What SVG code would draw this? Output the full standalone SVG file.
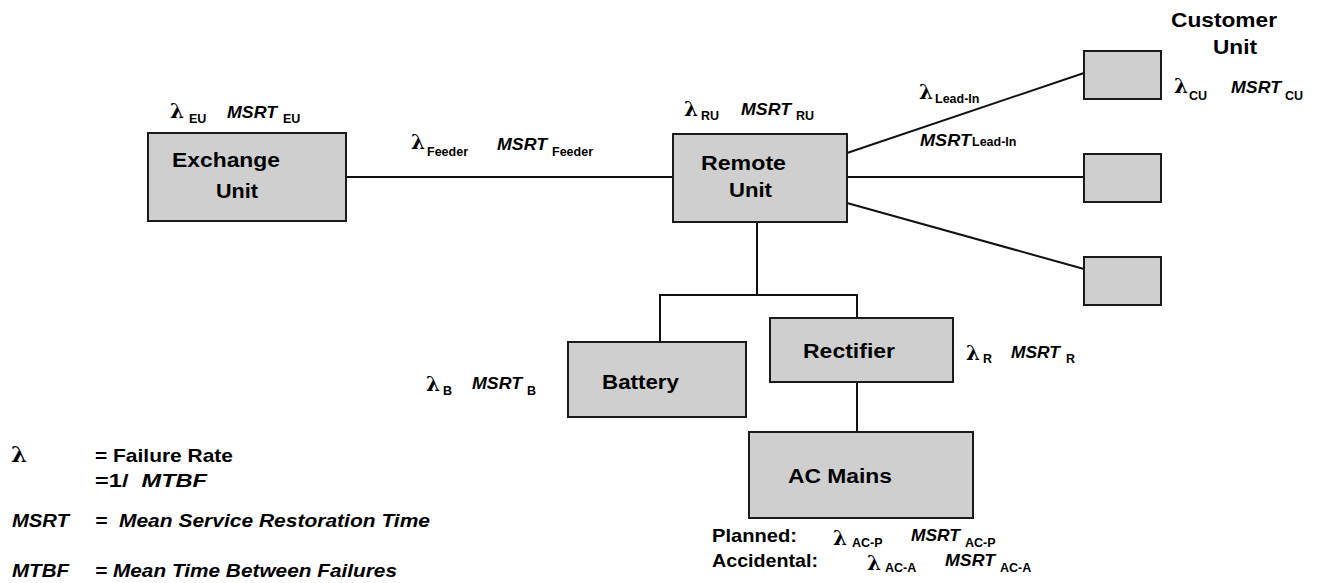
<svg xmlns="http://www.w3.org/2000/svg" width="1318" height="583" viewBox="0 0 1318 583">
<style>
.box{fill:#cfcfcf;stroke:#1a1a1a;stroke-width:2}
.ln{stroke:#111;stroke-width:2;fill:none}
text{font-family:"Liberation Sans",Arial,sans-serif;font-weight:bold;fill:#000}
.lbl{font-size:20px}
.ms{font-size:17px;font-style:italic}
.sb{font-size:12.5px}
.lam{font-family:"DejaVu Serif","Liberation Serif",serif;font-size:20px}
.lg{font-size:19px}
.it{font-style:italic}
</style>
<rect width="1318" height="583" fill="#fff"/>
<g id="connectors">
<line class="ln" x1="346" y1="177" x2="673" y2="177"/>
<line class="ln" x1="847" y1="153" x2="1084" y2="73"/>
<line class="ln" x1="847" y1="177" x2="1084" y2="177"/>
<line class="ln" x1="847" y1="203" x2="1084" y2="269"/>
<polyline class="ln" points="757,222 757,295"/>
<polyline class="ln" points="660,342 660,295 857,295 857,318"/>
<line class="ln" x1="857" y1="382" x2="857" y2="432"/>
</g>
<g id="exchange-unit">
<rect class="box" x="148" y="133" width="198" height="88"/>
<text class="lbl" x="172" y="167" textLength="108" lengthAdjust="spacingAndGlyphs">Exchange</text>
<text class="lbl" x="216" y="198" textLength="42" lengthAdjust="spacingAndGlyphs">Unit</text>
<text class="lam" x="170" y="118">λ</text><text class="sb" x="189" y="123">EU</text>
<text class="ms" x="227" y="118" textLength="50" lengthAdjust="spacingAndGlyphs">MSRT</text><text class="sb" x="283" y="123">EU</text>
</g>
<g id="feeder-label">
<text class="lam" x="411" y="149">λ</text><text class="sb" x="427" y="156">Feeder</text>
<text class="ms" x="497" y="150" textLength="50" lengthAdjust="spacingAndGlyphs">MSRT</text><text class="sb" x="552" y="156">Feeder</text>
</g>
<g id="remote-unit">
<rect class="box" x="673" y="134" width="174" height="88"/>
<text class="lbl" x="701" y="170" textLength="85" lengthAdjust="spacingAndGlyphs">Remote</text>
<text class="lbl" x="729" y="197" textLength="43" lengthAdjust="spacingAndGlyphs">Unit</text>
<text class="lam" x="684" y="116">λ</text><text class="sb" x="701" y="120">RU</text>
<text class="ms" x="741" y="115" textLength="50" lengthAdjust="spacingAndGlyphs">MSRT</text><text class="sb" x="796" y="120">RU</text>
</g>
<g id="leadin-label">
<text class="lam" x="919" y="99">λ</text><text class="sb" x="935" y="103">Lead-In</text>
<text class="ms" x="920" y="146" textLength="51" lengthAdjust="spacingAndGlyphs">MSRT</text><text class="sb" x="972" y="146">Lead-In</text>
</g>
<g id="customer-unit-1">
<rect class="box" x="1084" y="51" width="77" height="48"/>
<text class="lbl" x="1171" y="27" textLength="106" lengthAdjust="spacingAndGlyphs">Customer</text>
<text class="lbl" x="1213" y="54" textLength="44" lengthAdjust="spacingAndGlyphs">Unit</text>
<text class="lam" x="1174" y="93">λ</text><text class="sb" x="1189" y="100">CU</text>
<text class="ms" x="1231" y="93" textLength="50" lengthAdjust="spacingAndGlyphs">MSRT</text><text class="sb" x="1285" y="100">CU</text>
</g>
<g id="customer-unit-2">
<rect class="box" x="1084" y="154" width="77" height="48"/>
</g>
<g id="customer-unit-3">
<rect class="box" x="1084" y="257" width="77" height="48"/>
</g>
<g id="battery">
<rect class="box" x="568" y="342" width="178" height="75"/>
<text class="lbl" x="602" y="389" textLength="77" lengthAdjust="spacingAndGlyphs">Battery</text>
<text class="lam" x="426" y="391">λ</text><text class="sb" x="443" y="395">B</text>
<text class="ms" x="472" y="389" textLength="50" lengthAdjust="spacingAndGlyphs">MSRT</text><text class="sb" x="527" y="395">B</text>
</g>
<g id="rectifier">
<rect class="box" x="770" y="318" width="183" height="64"/>
<text class="lbl" x="803" y="358" textLength="92" lengthAdjust="spacingAndGlyphs">Rectifier</text>
<text class="lam" x="966" y="360">λ</text><text class="sb" x="983" y="363">R</text>
<text class="ms" x="1011" y="358" textLength="49" lengthAdjust="spacingAndGlyphs">MSRT</text><text class="sb" x="1066" y="363">R</text>
</g>
<g id="ac-mains">
<rect class="box" x="749" y="432" width="224" height="86"/>
<text class="lbl" x="788" y="483" textLength="104" lengthAdjust="spacingAndGlyphs">AC Mains</text>
<text class="lg" x="712" y="542" textLength="85" lengthAdjust="spacingAndGlyphs">Planned:</text>
<text class="lam" x="833" y="545">λ</text><text class="sb" x="852" y="547">AC-P</text>
<text class="ms" x="911" y="541" textLength="49" lengthAdjust="spacingAndGlyphs">MSRT</text><text class="sb" x="965" y="547">AC-P</text>
<text class="lg" x="712" y="567" textLength="106" lengthAdjust="spacingAndGlyphs">Accidental:</text>
<text class="lam" x="867" y="570">λ</text><text class="sb" x="885" y="572">AC-A</text>
<text class="ms" x="945" y="566" textLength="50" lengthAdjust="spacingAndGlyphs">MSRT</text><text class="sb" x="1000" y="572">AC-A</text>
</g>
<g id="legend">
<text class="lam" x="11" y="462" style="font-size:23px">λ</text>
<text class="lg" x="95" y="462" textLength="138" lengthAdjust="spacingAndGlyphs">= Failure Rate</text>
<text class="lg" x="95" y="487" xml:space="preserve" textLength="112" lengthAdjust="spacingAndGlyphs">=1/  <tspan class="it">MTBF</tspan></text>
<text class="lg it" x="12" y="527" textLength="57" lengthAdjust="spacingAndGlyphs">MSRT</text>
<text class="lg it" x="95" y="527" xml:space="preserve" textLength="335" lengthAdjust="spacingAndGlyphs">=  Mean Service Restoration Time</text>
<text class="lg it" x="12" y="577" textLength="57" lengthAdjust="spacingAndGlyphs">MTBF</text>
<text class="lg it" x="95" y="577" textLength="302" lengthAdjust="spacingAndGlyphs">= Mean Time Between Failures</text>
</g>
</svg>
